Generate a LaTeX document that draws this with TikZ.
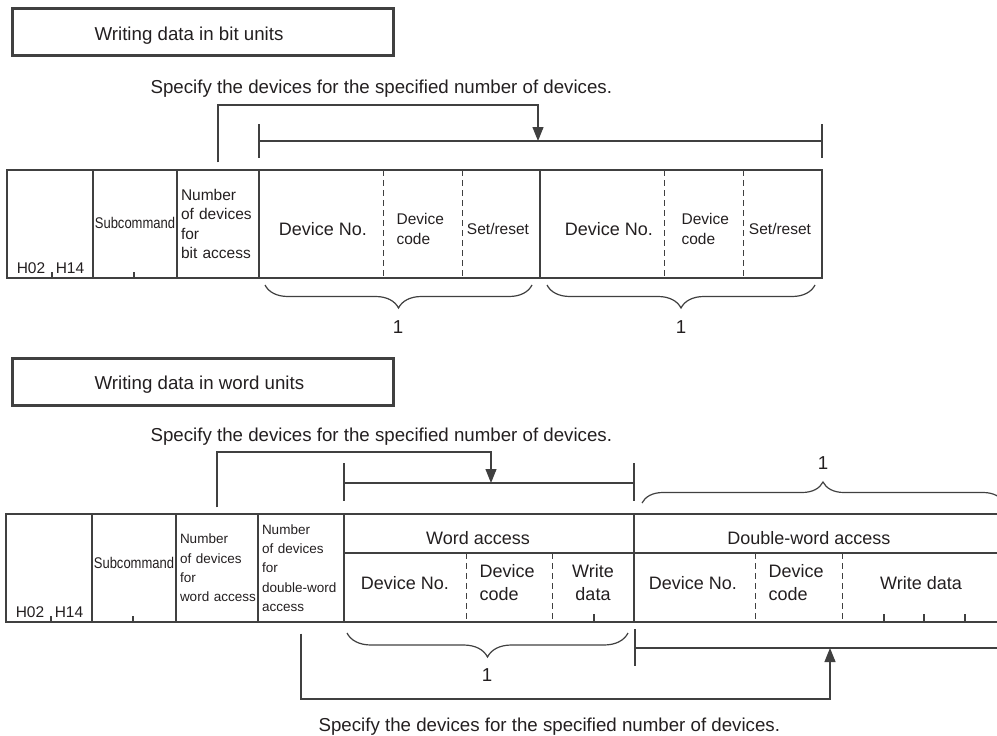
\documentclass[tikz,border=0pt]{standalone}
\usepackage{fontspec}
\setmainfont{Liberation Sans}
\usetikzlibrary{arrows.meta,decorations.pathreplacing}
\definecolor{linegray}{HTML}{404040}
\definecolor{inkgray}{HTML}{231F20}
\newcommand\ftitle{\fontsize{18.7}{22}\selectfont}
\newcommand\fcell{\fontsize{18}{23}\selectfont}
\newcommand\fsmall{\fontsize{15.5}{19.5}\selectfont}
\newcommand\ftiny{\fontsize{13.5}{19.3}\selectfont}
\newcommand\subcmd{\scalebox{.84}[1]{Subcommand}}
\begin{document}
\begin{tikzpicture}[x=1pt,y=-1pt,line width=1.2pt,color=linegray,text=inkgray,
    every node/.style={inner sep=0pt},
    sep/.style={dash pattern=on 6pt off 4pt,line width=1pt},
    titlebox/.style={draw,line width=2.6pt,minimum width=381pt,minimum height=47pt,anchor=north west},
    lead/.style={-{Triangle[length=14pt,width=11pt]}},
    brc/.style={decorate,decoration={brace,amplitude=#1}},
    numcol/.style={align=left,minimum height=108pt}]
  \useasboundingbox (0,0) rectangle (997,736);
  \clip (0,0) rectangle (997,736);
  %% bit units
  \node[titlebox] (tbit) at (11,7) {};
  \node[font=\ftitle,anchor=base west] (tbittext) at (94,40) {Writing data in bit units};
  \node[font=\ftitle,anchor=base west] (specbit) at (150,93) {Specify the devices for the specified number of devices.};
  \draw (7,170) rectangle (822,278);
  \foreach \x in {93,177,259,540} \draw (\x,170) -- (\x,278);
  \foreach \x in {383,462,664,743} \draw[sep] (\x,170) -- (\x,278);
  \foreach \x in {52,134} \draw (\x,272) -- (\x,278);
  \node[font=\fsmall,anchor=base] (hbitA) at (31,273) {H02};
  \node[font=\fsmall,anchor=base] (hbitB) at (70,273) {H14};
  \node[font=\fsmall] (subbit) at (135,223) {\subcmd};
  \node[font=\fsmall,numcol,text width=74pt] (nbit) at (218,224) {Number\\of devices\\for\\\mbox{bit access}};
  \node[font=\fcell] (dnoA) at (323,229) {Device No.};
  \node[font=\fsmall,anchor=west,align=left] (dcodeA) at (396,229) {Device\\code};
  \node[font=\fsmall] (setA) at (498,229) {Set/reset};
  \node[font=\fcell] (dnoB) at (609,229) {Device No.};
  \node[font=\fsmall,anchor=west,align=left] (dcodeB) at (681,229) {Device\\code};
  \node[font=\fsmall] (setB) at (780,229) {Set/reset};
  % range bar and arrow
  \coordinate (abit) at (538,141);
  \draw (259,124) -- (259,158) (259,141) -- (822,141) (822,124) -- (822,158);
  \draw[lead] ([yshift=7pt]nbit.north) |- ([yshift=36pt]abit) -- (abit);
  \draw[brc=23pt] (532,285) -- (265,285);
  \draw[brc=23pt] (815,285) -- (547,285);
  \node[font=\ftitle] (onebitA) at (398,327) {1};
  \node[font=\ftitle] (onebitB) at (681,327) {1};
  %% word units
  \node[titlebox] (tword) at (11,357) {};
  \node[font=\ftitle,anchor=base west] (twordtext) at (94,389) {Writing data in word units};
  \node[font=\ftitle,anchor=base west] (specword) at (150,441) {Specify the devices for the specified number of devices.};
  \draw (1000,514) -- (6,514) -- (6,622) -- (1000,622);
  \foreach \x in {92,176,258,344,634} \draw (\x,514) -- (\x,622);
  \draw (344,553) -- (1000,553);
  \foreach \x in {466,552,755,842} \draw[sep] (\x,553) -- (\x,622);
  \foreach \x in {51,133} \draw (\x,616) -- (\x,622);
  \foreach \x in {594,884,924,965} \draw (\x,614) -- (\x,622);
  \node[font=\fsmall,anchor=base] (hwordA) at (30,617) {H02};
  \node[font=\fsmall,anchor=base] (hwordB) at (69,617) {H14};
  \node[font=\fsmall] (subword) at (134,563) {\subcmd};
  \node[font=\ftiny,numcol,text width=74pt] (nword) at (217,568) {Number\\of devices\\for\\\mbox{word access}};
  \node[font=\ftiny,numcol,text width=78pt] (ndw) at (301,568) {Number\\of devices\\for\\\mbox{double-word}\\access};
  \node[font=\fcell] (waccess) at (478,538) {Word access};
  \node[font=\fcell] (dwaccess) at (809,538) {Double-word access};
  \node[font=\fcell] (dnoW) at (405,583) {Device No.};
  \node[font=\fcell,anchor=west,align=left] (dcodeW) at (479,583) {Device\\code};
  \node[font=\fcell,align=center] (wdataW) at (593,583) {Write\\data};
  \node[font=\fcell] (dnoD) at (693,583) {Device No.};
  \node[font=\fcell,anchor=west,align=left] (dcodeD) at (768,583) {Device\\code};
  \node[font=\fcell] (wdataD) at (921,583) {Write data};
  % range bars and arrows
  \coordinate (aword) at (491,483);
  \draw (344,463) -- (344,501) (344,483) -- (634,483) (634,463) -- (634,501);
  \draw[lead] ([yshift=6pt]nword.north) |- ([yshift=31pt]aword) -- (aword);
  \draw[brc=21pt] (642,503) -- (1004,503);
  \node[font=\ftitle] (onedw) at (823,463) {1};
  \draw[brc=24pt] (628,633) -- (347,633);
  \node[font=\ftitle] (oneword) at (487,675) {1};
  \coordinate (adw) at (830,648);
  \draw (635,629) -- (635,666) (635,648) -- (1000,648);
  \draw[lead] ([yshift=-11pt]ndw.south) |- ([yshift=-51pt]adw) -- (adw);
  \node[font=\ftitle,anchor=base west] (specdw) at (318,731) {Specify the devices for the specified number of devices.};
\end{tikzpicture}
\end{document}
